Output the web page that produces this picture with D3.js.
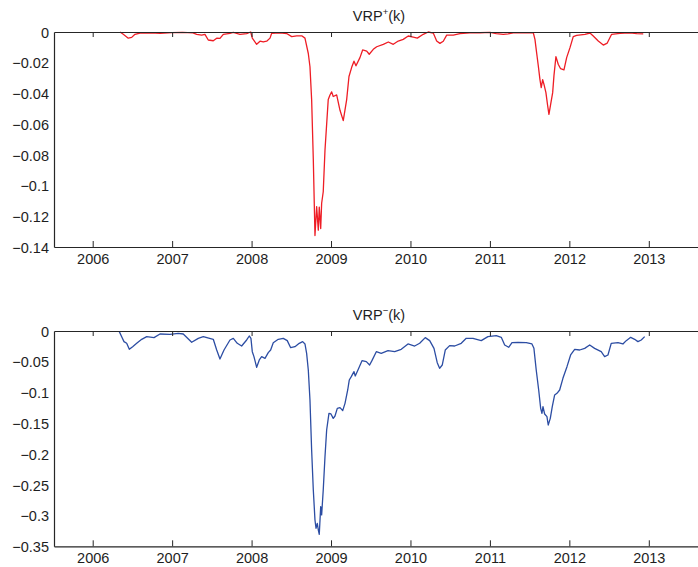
<!DOCTYPE html>
<html>
<head>
<meta charset="utf-8">
<script src="https://cdn.jsdelivr.net/npm/d3@7"></script>
<style>
  html, body { margin: 0; padding: 0; background: #fff; }
  svg { display: block; font-family: "Liberation Sans", Arial, Helvetica, sans-serif; }
</style>
</head>
<body>
<svg id="chart" width="698" height="567"></svg>
<script>
// Upside variance risk premium VRP+(k), by decimal year
const plusYears = [
  2006.344, 2006.385, 2006.448, 2006.491, 2006.532, 2006.595, 2006.721, 2006.850, 2006.998, 2007.130,
  2007.262, 2007.309, 2007.372, 2007.413, 2007.455, 2007.518, 2007.561, 2007.602, 2007.644, 2007.728,
  2007.770, 2007.854, 2007.938, 2007.989, 2008.009, 2008.064, 2008.106, 2008.147, 2008.190, 2008.232,
  2008.253, 2008.357, 2008.442, 2008.505, 2008.568, 2008.631, 2008.672, 2008.714, 2008.735, 2008.756,
  2008.777, 2008.798, 2008.819, 2008.840, 2008.852, 2008.870, 2008.882, 2008.902, 2008.924, 2008.965,
  2008.987, 2009.008, 2009.028, 2009.071, 2009.113, 2009.154, 2009.197, 2009.226, 2009.260, 2009.289,
  2009.314, 2009.364, 2009.398, 2009.449, 2009.481, 2009.532, 2009.575, 2009.658, 2009.721, 2009.784,
  2009.846, 2009.909, 2009.972, 2010.035, 2010.086, 2010.161, 2010.224, 2010.287, 2010.330, 2010.371,
  2010.413, 2010.456, 2010.539, 2010.623, 2010.749, 2010.875, 2011.001, 2011.080, 2011.168, 2011.230,
  2011.294, 2011.546, 2011.567, 2011.588, 2011.609, 2011.630, 2011.646, 2011.664, 2011.680, 2011.705,
  2011.727, 2011.743, 2011.765, 2011.790, 2011.806, 2011.831, 2011.860, 2011.890, 2011.932, 2011.966,
  2012.008, 2012.049, 2012.092, 2012.196, 2012.259, 2012.301, 2012.364, 2012.427, 2012.477, 2012.532,
  2012.637, 2012.762, 2012.847, 2012.930
];
const plusValues = [
  0, -0.0015, -0.004, -0.0035, -0.0015, -0.0007, -0.0005, -0.0008, -0.0004, -0.0003,
  -0.0006, -0.0015, -0.002, -0.0015, -0.0052, -0.0057, -0.004, -0.0042, -0.0015, -0.0009,
  -0.0003, -0.0015, -0.001, 0, -0.004, -0.008, -0.006, -0.0065, -0.006, -0.004,
  -0.0008, -0.0006, -0.001, -0.003, -0.0025, -0.0025, -0.004, -0.014, -0.0226, -0.044,
  -0.083, -0.1325, -0.1137, -0.129, -0.114, -0.128, -0.1115, -0.104, -0.077, -0.044,
  -0.041, -0.039, -0.042, -0.041, -0.051, -0.0577, -0.044, -0.029, -0.023, -0.019,
  -0.022, -0.0167, -0.0117, -0.0124, -0.0145, -0.0113, -0.0096, -0.008, -0.0065, -0.008,
  -0.0059, -0.0048, -0.0026, -0.0033, -0.004, -0.0015, 0, -0.0007, -0.0059, -0.0074,
  -0.006, -0.002, -0.002, -0.001, -0.0005, -0.0005, -0.0003, -0.001, -0.0015, -0.0012,
  -0.0005, -0.0005, -0.0048, -0.0135, -0.022, -0.031, -0.0362, -0.031, -0.034, -0.0395,
  -0.048, -0.0536, -0.047, -0.0395, -0.0286, -0.016, -0.021, -0.0239, -0.0247, -0.0167,
  -0.0102, -0.003, -0.0022, -0.0015, -0.0007, -0.0026, -0.0059, -0.0085, -0.0072, -0.0015,
  -0.0009, -0.0005, -0.001, -0.0012
];

// Downside variance risk premium VRP-(k), by decimal year
const minusYears = [
  2006.335, 2006.365, 2006.394, 2006.428, 2006.461, 2006.503, 2006.554, 2006.617, 2006.680, 2006.772,
  2006.847, 2006.973, 2007.077, 2007.140, 2007.246, 2007.329, 2007.392, 2007.518, 2007.561, 2007.602,
  2007.653, 2007.728, 2007.770, 2007.820, 2007.875, 2007.938, 2007.971, 2007.992, 2008.009, 2008.030,
  2008.064, 2008.097, 2008.127, 2008.169, 2008.210, 2008.240, 2008.273, 2008.336, 2008.399, 2008.449,
  2008.492, 2008.546, 2008.600, 2008.643, 2008.672, 2008.693, 2008.714, 2008.735, 2008.756, 2008.777,
  2008.798, 2008.811, 2008.827, 2008.840, 2008.852, 2008.870, 2008.882, 2008.902, 2008.924, 2008.945,
  2008.974, 2008.999, 2009.028, 2009.050, 2009.079, 2009.113, 2009.147, 2009.176, 2009.210, 2009.230,
  2009.255, 2009.289, 2009.305, 2009.339, 2009.390, 2009.444, 2009.486, 2009.515, 2009.570, 2009.632,
  2009.717, 2009.801, 2009.884, 2009.969, 2010.053, 2010.116, 2010.186, 2010.242, 2010.296, 2010.337,
  2010.367, 2010.400, 2010.438, 2010.493, 2010.556, 2010.639, 2010.702, 2010.787, 2010.891, 2010.975,
  2011.080, 2011.143, 2011.186, 2011.236, 2011.278, 2011.353, 2011.458, 2011.529, 2011.554, 2011.583,
  2011.614, 2011.639, 2011.655, 2011.668, 2011.689, 2011.718, 2011.734, 2011.760, 2011.785, 2011.815,
  2011.844, 2011.878, 2011.919, 2011.970, 2012.016, 2012.067, 2012.130, 2012.193, 2012.256, 2012.318,
  2012.401, 2012.444, 2012.486, 2012.527, 2012.612, 2012.674, 2012.716, 2012.772, 2012.822, 2012.863,
  2012.905, 2012.948
];
const minusValues = [
  -0.001, -0.0092, -0.0173, -0.020, -0.0298, -0.0255, -0.020, -0.0135, -0.0092, -0.0108,
  -0.0049, -0.0054, -0.0038, -0.0049, -0.0184, -0.0119, -0.0092, -0.0135, -0.0309, -0.0455,
  -0.0309, -0.0146, -0.0119, -0.020, -0.0244, -0.0146, -0.0081, -0.0119, -0.0336, -0.0417,
  -0.059, -0.0471, -0.0417, -0.0444, -0.0352, -0.0309, -0.019, -0.0135, -0.0119, -0.0157,
  -0.0271, -0.0255, -0.020, -0.0173, -0.0211, -0.0363, -0.0634, -0.1122, -0.1934, -0.2584,
  -0.3072, -0.3207, -0.3126, -0.3235, -0.3305, -0.2855, -0.299, -0.2584, -0.2043, -0.1609,
  -0.1338, -0.1349, -0.142, -0.1382, -0.1257, -0.1246, -0.1295, -0.1176, -0.0959, -0.0796,
  -0.0742, -0.0661, -0.0731, -0.0634, -0.0482, -0.0498, -0.0553, -0.0482, -0.0336, -0.0363,
  -0.032, -0.0336, -0.0298, -0.0211, -0.0244, -0.020, -0.0108, -0.0157, -0.0282, -0.0515,
  -0.0607, -0.0553, -0.0309, -0.0238, -0.0244, -0.020, -0.0119, -0.0119, -0.0157, -0.0092,
  -0.0076, -0.0103, -0.0228, -0.0265, -0.019, -0.0184, -0.019, -0.0211, -0.0282, -0.0634,
  -0.0959, -0.1257, -0.1338, -0.123, -0.1349, -0.1392, -0.1528, -0.142, -0.123, -0.104,
  -0.1013, -0.0959, -0.0769, -0.058, -0.039, -0.0298, -0.0309, -0.0282, -0.0228, -0.0282,
  -0.0336, -0.0417, -0.039, -0.020, -0.019, -0.0211, -0.0157, -0.0103, -0.0135, -0.0173,
  -0.0146, -0.0092
];

// Axis ticks
const yearTicks = [2006, 2007, 2008, 2009, 2010, 2011, 2012, 2013];
const yearLabels = ["2006", "2007", "2008", "2009", "2010", "2011", "2012", "2013"];
const plusTicks = [0, -0.02, -0.04, -0.06, -0.08, -0.1, -0.12, -0.14];
const plusLabels = ["0", "\u22120.02", "\u22120.04", "\u22120.06", "\u22120.08", "\u22120.1", "\u22120.12", "\u22120.14"];
const minusTicks = [0, -0.05, -0.1, -0.15, -0.2, -0.25, -0.3, -0.35];
const minusLabels = ["0", "\u22120.05", "\u22120.1", "\u22120.15", "\u22120.2", "\u22120.25", "\u22120.3", "\u22120.35"];

const svg = d3.select("#chart");
const left = 54, right = 706;
const axisColor = "#262626";
const textColor = "#1e1e1e";

const x = d3.scaleLinear().domain([2005.513, 2013.72]).range([left, right]);

const panels = [
  { years: plusYears, values: plusValues, ticks: plusTicks, labels: plusLabels,
    domain: [-0.14, 0], top: 32, bottom: 247, sup: "+", color: "#ee1d25" },
  { years: minusYears, values: minusValues, ticks: minusTicks, labels: minusLabels,
    domain: [-0.35, 0], top: 331, bottom: 546.3, sup: "\u2212", color: "#2c4da3" }
];

panels.forEach((p, i) => {
  const y = d3.scaleLinear().domain(p.domain).range([p.bottom, p.top]);
  const g = svg.append("g");

  // series line
  const pts = p.years.map((t, k) => [t, p.values[k]]);
  g.append("path")
    .datum(pts)
    .attr("fill", "none")
    .attr("stroke", p.color)
    .attr("stroke-width", 1.3)
    .attr("stroke-linejoin", "round")
    .attr("d", d3.line().x(d => x(d[0])).y(d => y(d[1])));

  // bottom axis with inward ticks
  const xb = g.append("g").attr("transform", `translate(0,${p.bottom})`)
    .call(d3.axisBottom(x).tickValues(yearTicks).tickFormat((d, k) => yearLabels[k]).tickSizeInner(-6).tickSizeOuter(0).tickPadding(6.5));
  // top axis with inward ticks, no labels
  const xt = g.append("g").attr("transform", `translate(0,${p.top})`)
    .call(d3.axisTop(x).tickValues(yearTicks).tickFormat("").tickSizeInner(-5).tickSizeOuter(0));
  // left axis
  const yl = g.append("g").attr("transform", `translate(${left},0)`)
    .call(d3.axisLeft(y).tickValues(p.ticks).tickFormat((d, k) => p.labels[k]).tickSize(0).tickPadding(5).tickSizeOuter(0));

  [xb, xt, yl].forEach(a => {
    a.select(".domain").attr("stroke", axisColor).attr("stroke-width", 1.2);
    a.selectAll(".tick line").attr("stroke", axisColor).attr("stroke-width", 1);
    a.selectAll(".tick text").attr("fill", textColor).style("font-size", "14.5px")
      .style("font-family", "'Liberation Sans', Arial, sans-serif");
  });
  yl.selectAll(".tick text").attr("dy", "0.36em");

  // title with superscript sign
  const title = g.append("text")
    .attr("x", (left + right) / 2 - 1)
    .attr("y", p.top - 11.5)
    .attr("text-anchor", "middle")
    .attr("fill", textColor)
    .style("font-size", "14.5px");
  title.append("tspan").text("VRP");
  title.append("tspan").attr("dy", -6).style("font-size", "9.5px").text(p.sup);
  title.append("tspan").attr("dy", 6).text("(k)");
});
</script>
</body>
</html>
